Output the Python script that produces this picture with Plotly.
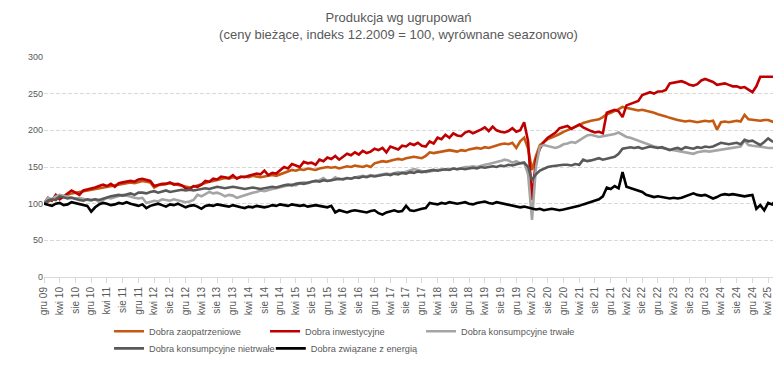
import plotly.graph_objects as go

months_pl = ["sty", "lut", "mar", "kwi", "maj", "cze", "lip", "sie", "wrz", "paź", "lis", "gru"]
categories = ["gru 09"]
for yr in range(2010, 2026):
    for i, mo in enumerate(months_pl):
        if yr == 2025 and i >= 6:
            break
        categories.append(f"{mo} {str(yr)[2:]}")

tick_labels = categories[::4]

zaopatrzeniowe = [100,
    103, 105, 108, 107, 110, 112, 114, 115, 116, 117, 118, 119,
    120, 121, 122, 123, 124, 125, 126, 127, 128, 129, 128, 130,
    131, 130, 129, 122, 125, 126, 127, 128, 127, 126, 125, 123,
    122, 123, 125, 127, 129, 130, 131, 132, 134, 135, 134, 136,
    135, 136, 137, 136, 138, 137, 136, 137, 138, 139, 138, 140,
    142, 144, 146, 145, 147, 146, 148, 147, 146, 148, 149, 150,
    149, 150, 148, 150, 151, 150, 152, 151, 150, 152, 150, 155,
    157, 158, 157, 159, 160, 161, 160, 162, 163, 164, 163, 162,
    165, 170, 169, 170, 171, 172, 173, 172, 171, 173, 172, 174,
    175, 176, 175, 177, 176, 178, 180, 181, 182, 181, 183, 176,
    185, 190, 175, 146, 165, 180, 184, 188, 190, 192, 195, 198,
    200, 203, 205, 207, 210, 212, 213, 214, 215, 218, 222, 224,
    226, 229, 232, 231, 229, 228, 227, 228, 227, 226, 224, 222,
    221, 219, 217, 215, 214, 213, 212, 213, 212, 211, 212, 213,
    212, 213, 201, 211, 212, 211, 212, 213, 212, 221, 215, 214,
    214, 213, 214, 214, 212, 210]

inwestycyjne = [100,
    108, 104, 112, 106, 110, 113, 118, 115, 112, 118, 119, 120,
    122, 124, 126, 124, 127, 123, 128, 129, 130, 131, 130, 133,
    134, 132, 131, 124, 126, 127, 127, 129, 126, 127, 125, 121,
    120, 124, 123, 126, 131, 130, 134, 133, 137, 136, 135, 139,
    134, 137, 136, 138, 140, 141, 140, 145, 139, 142, 141, 145,
    150, 148, 154, 152, 150, 157, 155, 156, 153, 160, 158, 163,
    161, 165, 160, 164, 168, 166, 170, 167, 172, 169, 171, 175,
    173, 176, 170, 178, 176, 174, 179, 178, 182, 180, 183, 179,
    178, 185, 182, 190, 188, 194, 190, 196, 193, 192, 197, 199,
    196, 198, 201, 204, 199, 205, 200, 198, 197, 199, 203, 198,
    200, 211, 185, 105, 160, 175, 184, 190, 194, 197, 203, 205,
    206, 202, 205, 208, 204, 201, 199, 197, 198, 196, 224, 226,
    228, 226, 218, 234, 236, 238, 240, 248, 250, 252, 250, 253,
    253, 255, 264, 265, 266, 267, 265, 262, 261, 263, 268, 270,
    268, 266, 262, 263, 264, 262, 260, 260, 258, 259, 255, 252,
    260, 273, 273, 273, 273, 273]

trwale = [100,
    108, 106, 110, 112, 111, 110, 109, 107, 108, 106, 105, 104,
    106, 102, 105, 108, 107, 109, 110, 112, 111, 109, 108, 107,
    108, 101, 103, 104, 103, 106, 105, 104, 106, 105, 104, 102,
    103, 105, 112, 110, 113, 116, 114, 115, 113, 110, 112, 111,
    108, 110, 112, 114, 115, 116, 118, 117, 119, 120, 121, 122,
    123, 124, 126, 125, 128, 129, 128, 130, 131, 132, 135, 131,
    132, 136, 133, 134, 135, 134, 136, 137, 138, 137, 139, 138,
    139, 140, 141, 140, 142, 143, 142, 144, 145, 147, 146, 144,
    143, 144, 145, 146, 147, 146, 147, 148, 147, 149, 150, 150,
    151, 150, 152, 153, 154, 155, 157, 158, 160, 159, 156, 158,
    155, 156, 140, 78, 150, 178, 180, 179, 177, 176, 178, 181,
    182, 184, 183, 186, 189, 193, 194, 192, 191, 192, 193, 193,
    195, 197, 194, 191, 190, 188, 185, 183, 182, 180, 178, 177,
    176, 175, 174, 173, 172, 171, 170, 169, 168, 170, 171, 172,
    171, 172, 173, 174, 174, 175, 176, 177, 178, 186, 180, 179,
    178, 177, 177, 176, 176, 176]

nietrwale = [100,
    104, 106, 105, 110, 109, 107, 108, 106, 105, 104, 106, 105,
    106, 105, 107, 108, 110, 111, 112, 111, 113, 114, 112, 115,
    115, 114, 116, 117, 115, 117, 118, 116, 117, 118, 119, 118,
    119, 118, 119, 120, 121, 120, 122, 123, 122, 121, 122, 123,
    122, 121, 120, 121, 122, 121, 120, 121, 122, 123, 122, 124,
    125, 126, 125, 127, 128, 127, 129, 130, 131, 130, 132, 131,
    132, 133, 134, 133, 135, 134, 136, 135, 137, 136, 138, 137,
    138, 139, 140, 139, 141, 140, 142, 141, 143, 142, 144, 143,
    144, 145, 146, 145, 146, 147, 146, 148, 147, 148, 147, 148,
    149, 148, 150, 149, 150, 151, 150, 152, 151, 153, 152, 154,
    155, 156, 150, 132, 140, 145, 148, 150, 151, 152, 153, 153,
    153, 152, 154, 153, 160, 158, 159, 161, 162, 160, 161, 163,
    164, 168, 175, 176, 177, 176, 177, 175, 176, 178, 177, 176,
    177, 175, 173, 175, 176, 174, 177, 176, 175, 177, 176, 178,
    177, 178, 180, 183, 182, 181, 182, 183, 181, 187, 185, 186,
    183, 180, 184, 189, 185, 184]

energia = [100,
    98, 97, 100, 101, 98, 99, 102, 101, 100, 99, 97, 89,
    95, 99, 101, 100, 98, 99, 101, 100, 102, 100, 98, 97,
    99, 94, 97, 99, 100, 98, 96, 99, 98, 100, 97, 95,
    97, 98, 96, 93, 97, 98, 97, 99, 98, 97, 96, 98,
    96, 95, 94, 96, 95, 97, 96, 95, 96, 98, 97, 99,
    98, 97, 99, 98, 97, 98, 96, 97, 98, 97, 96, 95,
    97, 88, 91, 89, 88, 90, 91, 90, 89, 88, 90, 91,
    87, 85, 88, 90, 91, 89, 90, 97, 91, 90, 92, 93,
    94, 101, 100, 99, 101, 100, 102, 101, 100, 101, 102, 100,
    99, 101, 102, 103, 101, 100, 102, 101, 99, 98, 97, 96,
    95, 96, 95, 94, 92, 93, 91, 92, 93, 92, 91, 92,
    93, 94, 96, 97, 99, 101, 102, 104, 106, 110, 122, 120,
    124, 121, 143, 123, 121, 119, 117, 116, 112, 110, 109, 110,
    109, 108, 107, 108, 107, 108, 110, 112, 114, 112, 111, 112,
    110, 107, 109, 112, 113, 112, 113, 112, 111, 110, 111, 112,
    93, 98, 91, 101, 99, 105]

series = [
    ("Dobra zaopatrzeniowe", zaopatrzeniowe, "#C65911", "legend"),
    ("Dobra inwestycyjne", inwestycyjne, "#C00000", "legend"),
    ("Dobra konsumpcyjne trwałe", trwale, "#A5A5A5", "legend"),
    ("Dobra konsumpcyjne nietrwałe", nietrwale, "#595959", "legend2"),
    ("Dobra związane z energią", energia, "#000000", "legend3"),
]

fig = go.Figure()
for name, vals, col, lg in series:
    fig.add_trace(go.Scatter(x=categories, y=vals, mode="lines", name=name, legend=lg,
                             line=dict(color=col, width=2.6)))

font_col = "#595959"
leg_common = dict(orientation="h", xanchor="left", yref="container", yanchor="top",
                  font=dict(size=9.2, color=font_col), entrywidthmode="pixels",
                  tracegroupgap=0, itemwidth=30, bgcolor="rgba(0,0,0,0)")
fig.update_layout(
    width=781, height=372,
    margin=dict(l=36, r=11, t=49, b=103, autoexpand=False),
    paper_bgcolor="white", plot_bgcolor="white",
    font=dict(family="Liberation Sans, Arial, sans-serif", color=font_col, size=10),
    title=dict(text="Produkcja wg ugrupowań<br>(ceny bieżące, indeks 12.2009 = 100, wyrównane seazonowo)",
               x=0.5, xanchor="center", yref="container", y=0.963, yanchor="top",
               font=dict(size=13, color=font_col)),
    showlegend=True,
    legend=dict(x=0.0886, y=0.170, entrywidth=111, **leg_common),
    legend2=dict(x=0.0886, y=0.124, entrywidth=150, **leg_common),
    legend3=dict(x=0.309, y=0.124, entrywidth=150, **leg_common),
)
fig.update_xaxes(
    type="category", categoryorder="array", categoryarray=categories,
    tickmode="array", tickvals=tick_labels, ticktext=tick_labels,
    tickangle=-90, range=[0, 186.5], showgrid=False,
    showline=True, linecolor="#D9D9D9", linewidth=1,
    ticks="outside", ticklen=5, tickcolor="#D9D9D9",
    tickfont=dict(size=10, color=font_col), zeroline=False,
)
fig.update_yaxes(
    range=[0, 300], tickvals=[0, 50, 100, 150, 200, 250, 300],
    showgrid=True, gridcolor="#D9D9D9", griddash="4px,2px", gridwidth=1,
    zeroline=False, showline=False, tickfont=dict(size=9, color=font_col),
)
fig.write_html("out.html")
